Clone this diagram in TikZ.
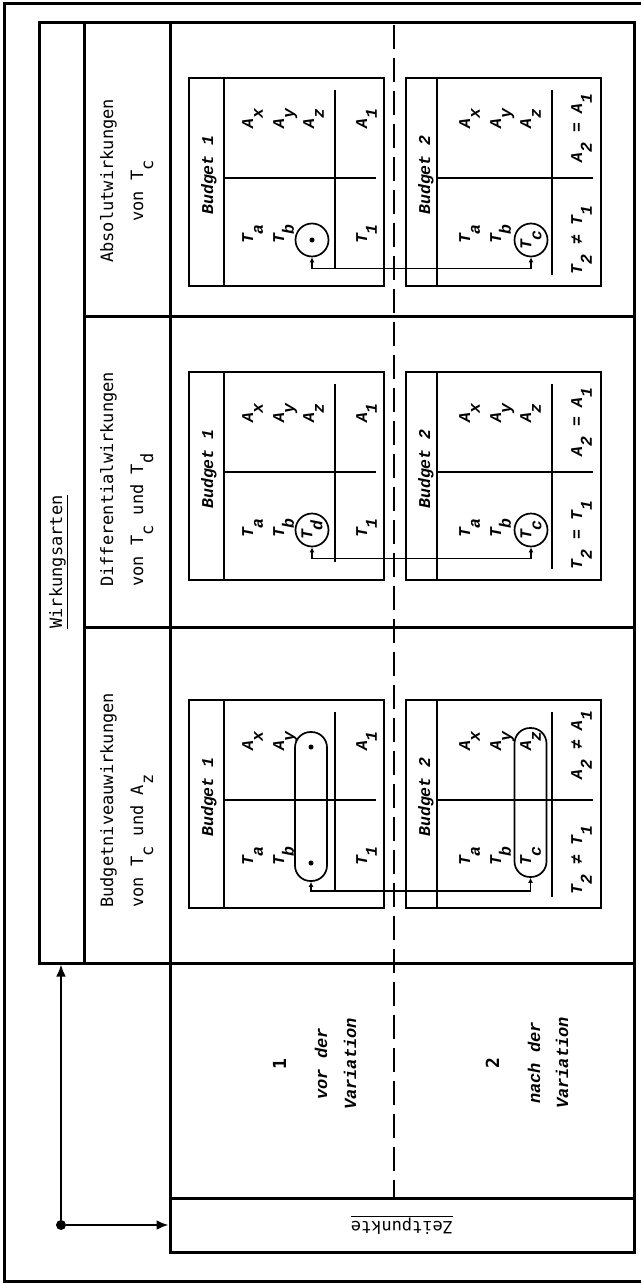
\documentclass[tikz,border=0pt]{standalone}
\usepackage{fontspec}
\setmonofont{DejaVu Sans Mono}
\newfontfamily\budgetfont{Liberation Mono}
\usetikzlibrary{arrows.meta, positioning}
\newcommand{\subdrop}[1]{\raisebox{-0.6em}{#1}}

\begin{document}
\begin{tikzpicture}[
    x=1pt, y=-1pt,
    frame/.style={line width=3pt},
    boxline/.style={line width=2.3pt},
    inner/.style={line width=1.7pt},
    head/.style={rotate=90, inner sep=0pt, font=\ttfamily\fontsize{17}{20}\selectfont},
    entry/.style={rotate=90, inner sep=0pt, anchor=base, font=\budgetfont\bfseries\itshape\fontsize{16.5}{18}\selectfont},
    period/.style={rotate=90, inner sep=0pt, anchor=base, font=\budgetfont\bfseries\itshape\fontsize{17}{20}\selectfont},
    ring/.style={circle, draw, line width=1.7pt, minimum size=33pt, inner sep=0pt},
    pill/.style={rectangle, draw, line width=1.7pt, rounded corners=15.5pt, minimum width=32pt, minimum height=149pt, inner sep=0pt},
    spot/.style={circle, fill, inner sep=0pt, minimum size=5pt},
    link/.style={line width=1.7pt, >={Latex[length=5pt,width=5pt]}, <->},
    arrow/.style={line width=2.6pt, -{Latex[length=12pt,width=10pt]}}
]
\useasboundingbox (0,0) rectangle (641,1284);

% outer frame
\draw[frame] (641,4) -- (4,4) -- (4,1281) -- (641,1281);

% table
\node[draw, frame, minimum width=595pt, minimum height=940pt, inner sep=0pt] (wabox) at (336.5,493) {};
\draw[frame] (84,23) -- (84,963);
\draw[frame] (170,23) -- (170,1198);
\draw[frame] (84,316) -- (634,316);
\draw[frame] (84,627) -- (634,627);
\draw[frame] (170,963) rectangle (634,1198);
\node[draw, frame, minimum width=464pt, minimum height=54pt, inner sep=0pt] (zpbox) at (402,1225) {};
\node[rotate=180, font=\ttfamily\fontsize{17}{20}\selectfont] at (zpbox) {\underline{Zeitpunkte}};
\draw[line width=2.4pt, dash pattern=on 24pt off 9pt] (394,25) -- (394,1198);

\node[circle, fill, minimum size=10pt, inner sep=0pt] (hub) at (61,1225) {};
\draw[arrow] (hub) -- (hub |- wabox.south);
\draw[arrow] (hub) -- (zpbox.west);

% headings
\node[head, anchor=base] at (62,562) {\underline{Wirkungsarten}};
\node[head, anchor=base west] at (113,908) {Budgetniveauwirkungen};
\node[head, anchor=base west] at (143,908) {von T\subdrop{c} und A\subdrop{z}};
\node[head, anchor=base west] at (113,587) {Differentialwirkungen};
\node[head, anchor=base west] at (143,587) {von T\subdrop{c} und T\subdrop{d}};
\node[head, anchor=base west] at (113,263) {Absolutwirkungen};
\node[head, anchor=base west] at (143,222) {von T\subdrop{c}};

% time points
\node[period, font=\ttfamily\bfseries\fontsize{18}{20}\selectfont] at (286,1064) {1};
\node[period] at (327,1064) {vor der};
\node[period] at (356,1064) {Variation};
\node[period, font=\ttfamily\bfseries\fontsize{18}{20}\selectfont] at (499,1063) {2};
\node[period] at (540,1063) {nach der};
\node[period] at (568,1063) {Variation};

% budget boxes
\foreach \t in {78, 372, 700} {
  \draw[boxline] (189,\t) rectangle ++(195,208);
  \draw[boxline] (406,\t) rectangle ++(195,208);
  \draw[boxline] (224,\t) -- ++(0,208);
  \draw[boxline] (437,\t) -- ++(0,208);
  \draw[inner] (224,\t+100) -- (376,\t+100);
  \draw[inner] (437,\t+100) -- (593,\t+100);
  \draw[inner] (335,\t+12) -- (335,\t+190);
  \draw[inner] (552,\t+12) -- (552,\t+197);
  \node[entry] at (213,\t+97) {Budget 1};
  \node[entry] at (430,\t+97) {Budget 2};
  \node[entry] at (253,\t+41) {A\subdrop{x}};
  \node[entry] at (284,\t+41) {A\subdrop{y}};
  \node[entry] at (253,\t+156) {T\subdrop{a}};
  \node[entry] at (284,\t+156) {T\subdrop{b}};
  \node[entry] at (470,\t+41) {A\subdrop{x}};
  \node[entry] at (501,\t+41) {A\subdrop{y}};
  \node[entry] at (470,\t+156) {T\subdrop{a}};
  \node[entry] at (501,\t+156) {T\subdrop{b}};
  \node[entry] at (367,\t+41) {A\subdrop{1}};
  \node[entry] at (367,\t+156) {T\subdrop{1}};
}

% Absolutwirkungen
\node[entry] at (314,119) {A\subdrop{z}};
\node[entry] at (531,119) {A\subdrop{z}};
\node[ring] (ring3a) at (312,240) {};
\node[spot] at (ring3a) {};
\node[ring] (ring3b) at (531,240) {};
\node[entry, anchor=center] at (ring3b) {T\subdrop{c}};
\draw[link] (ring3a.south) -- ++(0,11) -| (ring3b.south);
\node[entry] at (582,240) {T\subdrop{2} ≠ T\subdrop{1}};
\node[entry] at (582,128) {A\subdrop{2} = A\subdrop{1}};

% Differentialwirkungen
\node[entry] at (314,413) {A\subdrop{z}};
\node[entry] at (531,413) {A\subdrop{z}};
\node[ring] (ring2a) at (312,530) {};
\node[entry, anchor=center] at (ring2a) {T\subdrop{d}};
\node[ring] (ring2b) at (531,530) {};
\node[entry, anchor=center] at (ring2b) {T\subdrop{c}};
\draw[link] (ring2a.south) -- ++(0,11) -| (ring2b.south);
\node[entry] at (582,535) {T\subdrop{2} = T\subdrop{1}};
\node[entry] at (582,422) {A\subdrop{2} = A\subdrop{1}};

% Budgetniveauwirkungen
\node[pill] (pill1a) at (311,806.5) {};
\node[spot] at (311,747) {};
\node[spot] at (311,863) {};
\node[pill] (pill1b) at (530.5,802.5) {};
\node[entry] at (531,741) {A\subdrop{z}};
\node[entry] at (531,856) {T\subdrop{c}};
\draw[link] (pill1a.south) -- ++(0,9) -| (pill1b.south);
\node[entry] at (582,860) {T\subdrop{2} ≠ T\subdrop{1}};
\node[entry] at (582,745) {A\subdrop{2} ≠ A\subdrop{1}};
\end{tikzpicture}
\end{document}
